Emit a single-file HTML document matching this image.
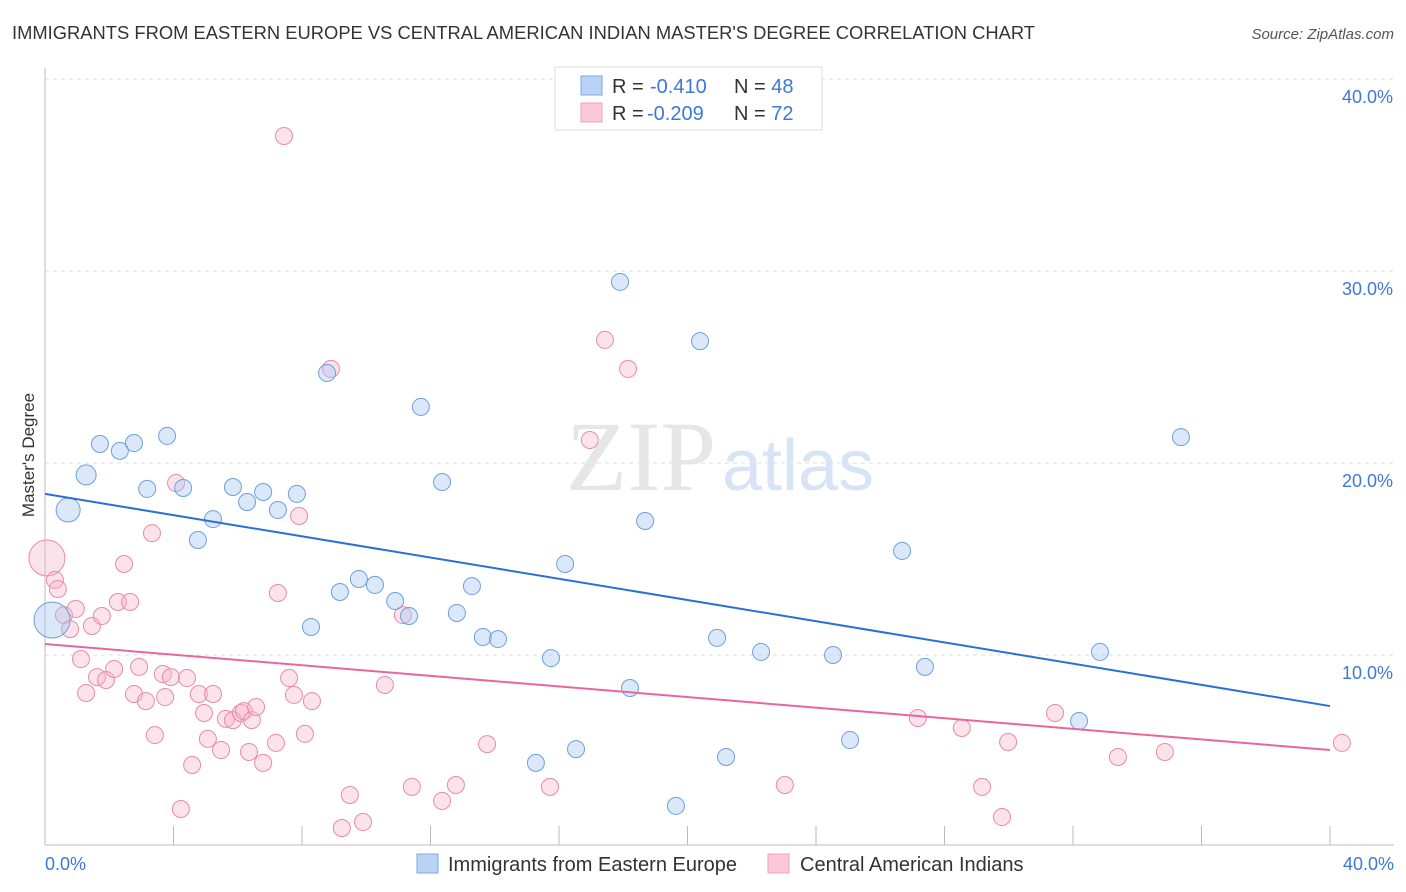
<!DOCTYPE html>
<html><head><meta charset="utf-8"><style>
body{margin:0;background:#fff;font-family:"Liberation Sans",sans-serif;}
#wrap{position:relative;width:1406px;height:892px;overflow:hidden;}
</style></head><body>
<div id="wrap">
<svg id="svg" width="1406" height="892" xmlns="http://www.w3.org/2000/svg">
<text x="12" y="39" font-size="18" fill="#333" textLength="1023" lengthAdjust="spacingAndGlyphs">IMMIGRANTS FROM EASTERN EUROPE VS CENTRAL AMERICAN INDIAN MASTER'S DEGREE CORRELATION CHART</text>
<text x="1394" y="39" font-size="15" fill="#555" font-style="italic" text-anchor="end">Source: ZipAtlas.com</text>
<text x="34" y="455" font-size="17" fill="#333" text-anchor="middle" transform="rotate(-90 34 455)">Master's Degree</text>
<g id="grid"></g>
<text x="716" y="490" font-size="100" fill="#e6e6e6" font-family="Liberation Serif,serif" text-anchor="end">ZIP</text>
<text x="722" y="490" font-size="72" fill="#d6e4f5" text-anchor="start">atlas</text>
<g id="pts"></g>
<g id="lines"></g>
<g>
<rect x="555" y="67" width="267" height="63" fill="#fff" stroke="#ddd"/>
<rect x="581" y="76" width="21" height="19" fill="#b8d3f5" stroke="#7aa8e6"/>
<rect x="581" y="103" width="21" height="19" fill="#fac8d7" stroke="#f0a0b8"/>
<text x="612" y="93" font-size="20" fill="#333">R = <tspan x="650" fill="#3b78d8">-0.410</tspan><tspan x="734">N = </tspan><tspan fill="#3b78d8">48</tspan></text>
<text x="612" y="120" font-size="20" fill="#333">R = <tspan x="647" fill="#3b78d8">-0.209</tspan><tspan x="734">N = </tspan><tspan fill="#3b78d8">72</tspan></text>
</g>
<g>
<rect x="417" y="854" width="21" height="19" fill="#b8d3f5" stroke="#7aa8e6"/>
<text x="448" y="871" font-size="20" fill="#333">Immigrants from Eastern Europe</text>
<rect x="768" y="854" width="21" height="19" fill="#fac8d7" stroke="#f0a0b8"/>
<text x="800" y="871" font-size="20" fill="#333">Central American Indians</text>
</g>
<text x="45" y="870" font-size="18" fill="#3b78d8">0.0%</text>
<text x="1394" y="870" font-size="18" fill="#3b78d8" text-anchor="end">40.0%</text>
</svg>
</div>
<script>
const yTicks=[10,20,30,40];
const yTickLabels=["10.0%","20.0%","30.0%","40.0%"];
const xTicks=[0,4,8,12,16,20,24,28,32,36,40];
const blueX=[0.22,0.72,1.28,1.71,2.33,2.77,3.18,3.80,4.30,4.76,5.23,5.85,6.29,6.79,7.25,7.84,8.28,8.78,9.18,9.77,10.27,10.90,11.33,11.70,12.36,12.82,13.29,13.63,14.10,15.75,15.28,16.19,16.53,17.90,18.21,18.68,19.64,20.39,20.92,21.20,22.29,24.53,25.06,26.68,27.39,32.19,32.84,35.36];
const blueY=[11.82,17.55,19.38,20.99,20.63,21.04,18.65,21.41,18.70,15.99,17.08,18.75,17.97,18.49,17.55,18.39,11.46,24.69,13.28,13.96,13.65,12.81,12.03,22.92,19.01,12.19,13.59,10.94,10.83,9.84,4.38,14.74,5.10,29.43,8.28,16.98,2.14,26.35,10.89,4.69,10.16,10.00,5.57,15.42,9.38,6.56,10.16,21.35];
const pinkX=[0.06,0.31,0.40,0.59,0.78,0.96,1.12,1.28,1.46,1.62,1.77,1.90,2.15,2.27,2.46,2.65,2.77,2.93,3.14,3.33,3.42,3.67,3.74,3.92,4.08,4.23,4.42,4.58,4.79,4.95,5.07,5.23,5.48,5.63,5.85,6.10,6.19,6.35,6.44,6.57,6.79,7.19,7.25,7.44,7.60,7.75,7.91,8.09,8.31,8.90,9.24,9.49,9.90,10.58,11.14,11.42,12.36,12.79,13.76,15.72,16.96,17.43,18.15,23.03,27.17,28.54,29.17,29.79,29.98,31.44,33.40,34.86,40.37];
const pinkY=[15.05,13.91,13.44,12.08,11.35,12.40,9.79,8.02,11.51,8.85,12.03,8.70,9.27,12.76,14.74,12.76,7.97,9.38,7.60,16.35,5.83,9.01,7.81,8.85,18.96,1.98,8.80,4.27,7.97,6.98,5.63,7.97,5.05,6.67,6.61,6.98,7.08,4.95,6.61,7.29,4.38,5.42,13.23,37.03,8.80,7.92,17.24,5.89,7.60,24.90,0.99,2.71,1.30,8.44,12.08,3.13,2.40,3.23,5.36,3.13,21.20,26.41,24.90,3.23,6.72,6.20,3.13,1.56,5.47,6.98,4.69,4.95,5.42];
const blueTrend=[18.39,7.34];
const pinkTrend=[10.57,5.05];
const NS="http://www.w3.org/2000/svg";
const xs=v=>45+v/40*1285;
const ys=v=>847-v*19.2;
function mk(tag,attrs,parent){const e=document.createElementNS(NS,tag);for(const k in attrs)e.setAttribute(k,attrs[k]);parent.appendChild(e);return e;}
const grid=document.getElementById('grid');
let ax=mk('line',{x1:45,y1:68,x2:45,y2:845,stroke:'#bbb'},grid);


let bx=mk('line',{x1:45,y1:845,x2:1394,y2:845,stroke:'#bbb'},grid);


yTicks.forEach((t,i)=>{
 const g=mk('line',{x1:45,y1:ys(t),x2:1394,y2:ys(t),stroke:'#ddd','stroke-dasharray':'4,4'},grid);
 
 
 const l=mk('text',{x:1393,y:ys(t)+24,'font-size':18,fill:'#3b78d8','text-anchor':'end'},grid);
 l.textContent=yTickLabels[i];
 
 
});
xTicks.forEach(t=>{
 const g=mk('line',{x1:xs(t),y1:826,x2:xs(t),y2:845,stroke:'#bbb'},grid);
 
 
});
const pts=document.getElementById('pts');
pinkX.forEach((x,i)=>{
 const c=mk('circle',{cx:xs(x),cy:ys(pinkY[i]),r:i==0?18:8.5,fill:'rgba(246,180,203,0.38)',stroke:'#e98aa8','stroke-width':1},pts);
 
 
});
blueX.forEach((x,i)=>{
 const c=mk('circle',{cx:xs(x),cy:ys(blueY[i]),r:i==0?18:(i==1?12:(i==2?10:8.5)),fill:'rgba(168,200,240,0.42)',stroke:'#6d9fe0','stroke-width':1},pts);
 
 
});
const lines=document.getElementById('lines');
const bl=mk('line',{x1:xs(0),y1:ys(blueTrend[0]),x2:xs(40),y2:ys(blueTrend[1]),stroke:'#2a6fd6','stroke-width':2},lines);


const pl=mk('line',{x1:xs(0),y1:ys(pinkTrend[0]),x2:xs(40),y2:ys(pinkTrend[1]),stroke:'#e8679a','stroke-width':2},lines);


</script>
</body></html>
